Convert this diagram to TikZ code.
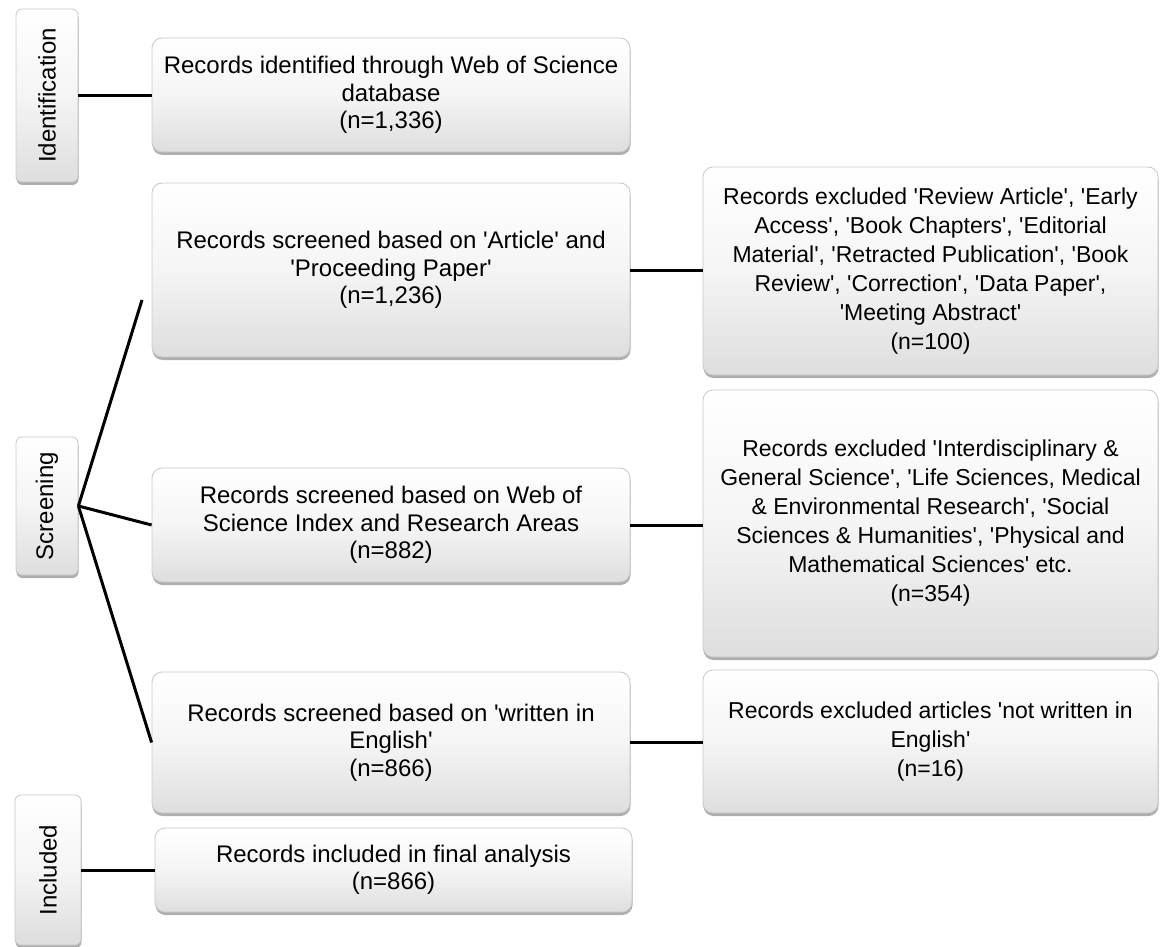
\documentclass[tikz,border=0pt]{standalone}
\usepackage{fontspec}
\usepackage{graphicx}
\newfontfamily\arialf{Liberation Sans}
\usetikzlibrary{shadows}
\begin{document}
\begin{tikzpicture}[x=1pt,y=-1pt,
  every node/.style={font=\arialf\fontsize{24}{27.5}\selectfont},
  boxbase/.style={rounded corners=10pt, draw=black!22, line width=0.8pt,
    top color=white, bottom color=black!13, middle color=white!96!black,
    drop shadow={shadow xshift=0.5pt, shadow yshift=-3pt, fill=black!45, opacity=0.7},
    align=center, inner sep=4pt},
  exbox/.style={boxbase, font=\arialf\fontsize{23}{29}\selectfont},
  stage/.style={boxbase, rounded corners=6pt},
  conn/.style={line width=3pt, black}]
\useasboundingbox (0,0) rectangle (1160,947);

% stage labels
\node[stage, minimum width=62pt, minimum height=173pt] (id) at (47,95.5) {\rotatebox{90}{Identification}};
\node[stage, minimum width=62pt, minimum height=138pt] (scr) at (47,506) {\rotatebox{90}{Screening}};
\node[stage, minimum width=66pt, minimum height=150pt] (inc) at (48,870) {\rotatebox{90}{Included}};

% main column
\node[boxbase, minimum width=478pt, minimum height=114pt] (b1) at (391,95) {Records identified through Web of Science\\database\\(n=1,336)};
\node[boxbase, minimum width=478pt, minimum height=174pt] (b2) at (391,270) {Records screened based on 'Article' and\\'Proceeding Paper'\\(n=1,236)};
\node[boxbase, minimum width=478pt, minimum height=114pt] (b3) at (391,525) {Records screened based on Web of\\Science Index and Research Areas\\(n=882)};
\node[boxbase, minimum width=478pt, minimum height=141pt] (b4) at (391,742.5) {Records screened based on 'written in\\English'\\(n=866)};
\node[boxbase, minimum width=477pt, minimum height=84pt] (b5) at (393.5,870) {Records included in final analysis\\(n=866)};

% exclusion column
\node[exbox, minimum width=455pt, minimum height=208pt] (r1) at (930.5,271) {Records excluded 'Review Article', 'Early\\Access', 'Book Chapters', 'Editorial\\Material', 'Retracted Publication', 'Book\\Review', 'Correction', 'Data Paper',\\'Meeting Abstract'\\(n=100)};
\node[exbox, minimum width=455pt, minimum height=267pt] (r2) at (930.5,523.5) {Records excluded 'Interdisciplinary \&\\General Science', 'Life Sciences, Medical\\\& Environmental Research', 'Social\\Sciences \& Humanities', 'Physical and\\Mathematical Sciences' etc.\\(n=354)};
\node[exbox, minimum width=455pt, minimum height=143pt] (r3) at (930.5,741.5) {Records excluded articles 'not written in\\English'\\(n=16)};

\coordinate (b2in) at (142,300);

% connectors
\draw[conn] (id.east) -- (id.east -| b1.west);
\draw[conn] (scr.east) -- (b2in);
\draw[conn] (scr.east) -- (b3.west);
\draw[conn] (scr.east) -- (b4.west);
\draw[conn] (inc.east) -- (inc.east -| b5.west);
\draw[conn] (b2.east) -- (b2.east -| r1.west);
\draw[conn] (b3.east) -- (b3.east -| r2.west);
\draw[conn] (b4.east) -- (b4.east -| r3.west);
\end{tikzpicture}
\end{document}
